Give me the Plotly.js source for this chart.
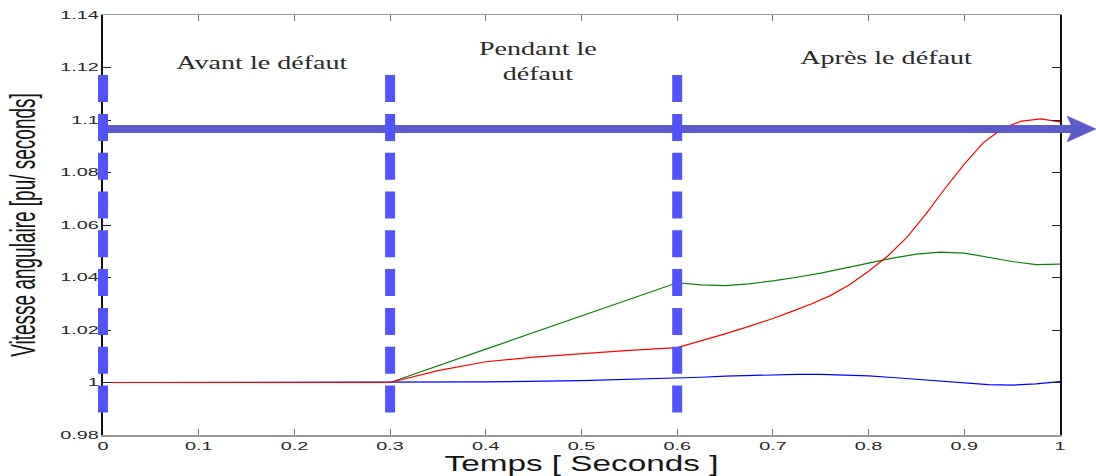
<!DOCTYPE html>
<html>
<head>
<meta charset="utf-8">
<script src="https://cdn.plot.ly/plotly-3.0.1.min.js"></script>
<style>
  html, body { margin: 0; padding: 0; background: #ffffff; }
  #chart { width: 1096px; height: 476px; }
</style>
</head>
<body>
<div id="chart"></div>
<script>
// ---------------- data ----------------
const xTicks = [0, 0.1, 0.2, 0.3, 0.4, 0.5, 0.6, 0.7, 0.8, 0.9, 1];
const xTickLabels = ['0', '0.1', '0.2', '0.3', '0.4', '0.5', '0.6', '0.7', '0.8', '0.9', '1'];
const yTicks = [0.98, 1, 1.02, 1.04, 1.06, 1.08, 1.1, 1.12, 1.14];
const yTickLabels = ['0.98', '1', '1.02', '1.04', '1.06', '1.08', '1.1', '1.12', '1.14'];

const timeBlue  = [0, 0.1, 0.2, 0.3, 0.4, 0.5, 0.6, 0.625, 0.65, 0.675, 0.7, 0.725, 0.75, 0.775, 0.8, 0.825, 0.85, 0.875, 0.9, 0.925, 0.95, 0.975, 1.0];
const speedBlue = [1, 1, 1, 1, 1.0002, 1.0007, 1.0016, 1.0020, 1.0024, 1.0027, 1.0030, 1.0031, 1.0031, 1.0029, 1.0025, 1.0019, 1.0012, 1.0004, 0.9997, 0.9992, 0.9990, 0.9995, 1.0003];

const timeGreen  = [0, 0.1, 0.2, 0.3, 0.4, 0.5, 0.6, 0.625, 0.65, 0.675, 0.7, 0.725, 0.75, 0.775, 0.8, 0.825, 0.85, 0.875, 0.9, 0.925, 0.95, 0.975, 1.0];
const speedGreen = [1, 1, 1, 1, 1.0127, 1.0253, 1.0380, 1.0372, 1.0369, 1.0376, 1.0387, 1.0401, 1.0417, 1.0436, 1.0455, 1.0474, 1.0489, 1.0497, 1.0493, 1.0478, 1.0461, 1.0449, 1.0451];

const timeRed  = [0, 0.1, 0.2, 0.3, 0.35, 0.4, 0.45, 0.5, 0.55, 0.6, 0.625, 0.65, 0.675, 0.7, 0.72, 0.74, 0.76, 0.78, 0.8, 0.82, 0.84, 0.86, 0.88, 0.9, 0.92, 0.94, 0.96, 0.98, 1.0];
const speedRed = [1, 1, 1, 1, 1.0045, 1.0079, 1.0097, 1.0110, 1.0122, 1.0133, 1.0158, 1.0185, 1.0214, 1.0244, 1.0271, 1.0299, 1.0331, 1.0372, 1.0424, 1.0482, 1.0553, 1.0642, 1.0740, 1.0832, 1.0914, 1.0968, 1.0996, 1.1004, 1.0993];

const phaseTimes  = [0, 0.3, 0.6];                       // fault instants (dashed lines)
const phaseLabels = ['Avant le défaut', 'Pendant le<br>défaut', 'Après le défaut'];
const referenceLevel = 1.0966;                           // horizontal arrow level

const xTitle = 'Temps [ Seconds ]';
const yTitle = 'Vitesse angulaire [pu/ seconds]';

// ---------------- layout helpers ----------------
const xRange = [0, 1], yRange = [0.98, 1.14];
const M = { l: 103, r: 36, t: 15, b: 41 };
const W = 1096, H = 476;
const plotW = W - M.l - M.r, plotH = H - M.t - M.b;
const paperX = v => (v - xRange[0]) / (xRange[1] - xRange[0]);
const pxToPaperX = px => px / plotW;                      // pixel offset -> paper
const pxToDataY = px => px * (yRange[1] - yRange[0]) / plotH;

const dashTop = 1.1171, dashBottom = 0.9884;
const shapes = [];
// horizontal arrow
const notch = 1 + pxToPaperX(13), back = 1 + pxToPaperX(7), tip = 1 + pxToPaperX(36);
const arrowColor = '#5c5cc8';
shapes.push({ type: 'line', xref: 'paper', yref: 'y', x0: 0, x1: notch, y0: referenceLevel, y1: referenceLevel,
  line: { color: arrowColor, width: 8 }, layer: 'above' });
const hy = pxToDataY(13);
shapes.push({ type: 'path', xref: 'paper', yref: 'y', layer: 'above',
  path: `M ${tip} ${referenceLevel} L ${back} ${referenceLevel + hy} L ${notch} ${referenceLevel} L ${back} ${referenceLevel - hy} Z`,
  fillcolor: arrowColor, line: { color: arrowColor, width: 0.5 } });
// dashed phase boundaries
phaseTimes.forEach(t => {
  shapes.push({ type: 'line', xref: 'paper', yref: 'y', x0: paperX(t), x1: paperX(t), y0: dashTop, y1: dashBottom,
    line: { color: '#5252ff', width: 10, dash: '27px,11.8px' }, layer: 'above' });
});

const labelPos = [[0.166, 1.1218], [0.4545, 1.1225], [0.819, 1.1240]];
const annotations = phaseLabels.map((txt, i) => ({
  text: txt, x: labelPos[i][0], y: labelPos[i][1], xref: 'x', yref: 'y', showarrow: false,
  xanchor: 'center', yanchor: 'middle', align: 'center',
  font: { family: 'Liberation Serif, Times New Roman, serif', size: 19, color: '#2b2b2b' }
}));

const traces = [
  { x: timeBlue, y: speedBlue, type: 'scatter', mode: 'lines', line: { color: '#0000ff', width: 1.2 }, name: 'Blue' },
  { x: timeGreen, y: speedGreen, type: 'scatter', mode: 'lines', line: { color: '#0a800a', width: 1.2 }, name: 'Green' },
  { x: timeRed, y: speedRed, type: 'scatter', mode: 'lines', line: { color: '#ff0000', width: 1.2 }, name: 'Red' }
];

const tickFont = { family: 'Liberation Sans, Arial, sans-serif', size: 11, color: '#262626' };
const layout = {
  width: W, height: H, margin: M, showlegend: false,
  paper_bgcolor: '#ffffff', plot_bgcolor: '#ffffff',
  xaxis: {
    range: xRange, tickmode: 'array', tickvals: xTicks, ticktext: xTickLabels,
    ticks: 'inside', ticklen: 6, tickcolor: '#777777', tickwidth: 1,
    showline: true, linecolor: '#9a9a9a', linewidth: 1.5, mirror: 'ticks',
    showgrid: false, zeroline: false, tickfont: tickFont,
    title: { text: xTitle, standoff: 5, font: { family: 'Liberation Sans, Arial, sans-serif', size: 22.5, color: '#151515' } }
  },
  yaxis: {
    range: yRange, tickmode: 'array', tickvals: yTicks, ticktext: yTickLabels,
    ticks: 'inside', ticklen: 8, tickcolor: '#222222', tickwidth: 1,
    showline: true, linecolor: '#111111', linewidth: 2, mirror: 'ticks',
    showgrid: false, zeroline: false, tickfont: tickFont,
    title: { text: yTitle, standoff: 37, font: { family: 'Liberation Sans, Arial, sans-serif', size: 19, color: '#151515' } }
  },
  shapes: shapes,
  annotations: annotations
};

// horizontal stretch of rendered text about its anchor (the reference is widened)
function stretchText(sel, s) {
  document.querySelectorAll(sel).forEach(el => {
    const x = parseFloat(el.getAttribute('x')) || 0;
    const y = parseFloat(el.getAttribute('y')) || 0;
    const old = el.getAttribute('transform') || '';
    let ax = x, ay = y;
    const tl = el.transform.baseVal;
    if (tl.numberOfItems) {
      const m = tl.consolidate().matrix;
      ax = m.a * x + m.c * y + m.e; ay = m.b * x + m.d * y + m.f;
    }
    el.setAttribute('transform', `translate(${ax},${ay}) scale(${s},1) translate(${-ax},${-ay}) ${old}`);
  });
}

Plotly.newPlot('chart', traces, layout, { displayModeBar: false, staticPlot: true }).then(() => {
  stretchText('.xtick text', 1.8);
  stretchText('.ytick text', 1.8);
  stretchText('.annotation-text', 1.48);
  stretchText('.xtitle', 1.48);
  stretchText('.ytitle', 1.8);
});
</script>
</body>
</html>
